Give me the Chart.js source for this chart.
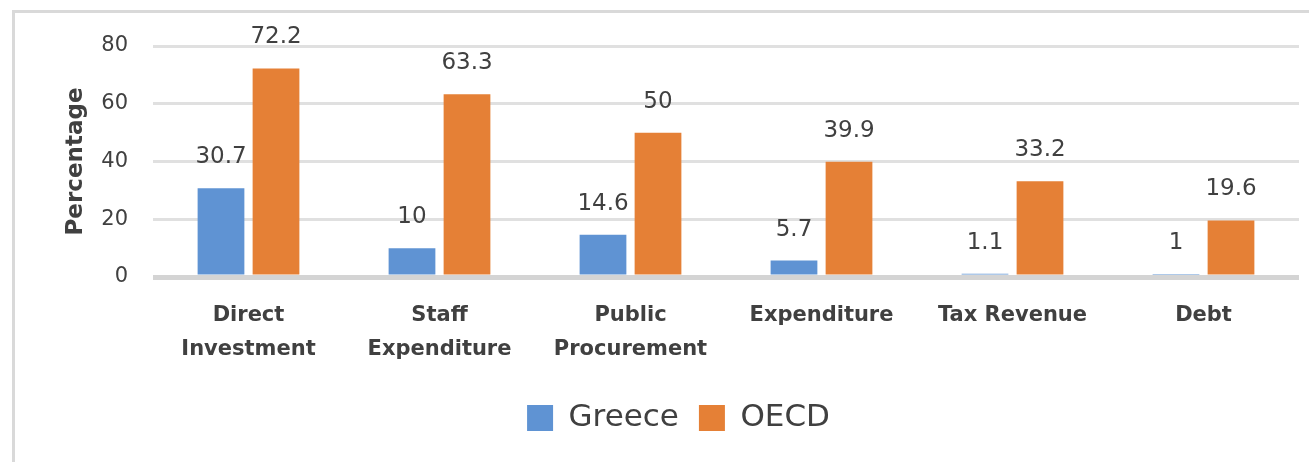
<!DOCTYPE html>
<html>
<head>
<meta charset="utf-8">
<script src="https://cdn.jsdelivr.net/npm/chart.js@4"></script>
<style>
  html, body { margin: 0; padding: 0; background: #ffffff; }
  #wrap { width: 1309px; height: 462px; position: relative; }
</style>
</head>
<body>
<div id="wrap"><canvas id="chart"></canvas></div>
<script>
// Chart data
const categories = [
  ["Direct", "Investment"],
  ["Staff", "Expenditure"],
  ["Public", "Procurement"],
  "Expenditure",
  "Tax Revenue",
  "Debt",
];
const greeceValues = [30.7, 10, 14.6, 5.7, 1.1, 1];
const oecdValues = [72.2, 63.3, 50, 39.9, 33.2, 19.6];
const yTicks = [0, 20, 40, 60, 80];

const textColor = "#404040";

// Frame around the chart (top + left edge only, as in the picture)
const framePlugin = {
  id: "frame",
  beforeDraw(chart) {
    const ctx = chart.ctx;
    ctx.save();
    ctx.strokeStyle = "#d9d9d9";
    ctx.lineWidth = 3;
    ctx.beginPath();
    ctx.moveTo(13.5, 462);
    ctx.lineTo(13.5, 11.5);
    ctx.lineTo(1309, 11.5);
    ctx.stroke();
    ctx.restore();
  },
};

// Value labels above each bar
const valueLabels = {
  id: "valueLabels",
  afterDatasetsDraw(chart) {
    const ctx = chart.ctx;
    ctx.save();
    ctx.font = "23px 'DejaVu Sans'";
    ctx.fillStyle = textColor;
    ctx.textAlign = "center";
    ctx.textBaseline = "middle";
    chart.data.datasets.forEach((ds, i) => {
      chart.getDatasetMeta(i).data.forEach((bar, j) => {
        ctx.fillText(String(ds.data[j]), bar.x, bar.y - 31);
      });
    });
    ctx.restore();
  },
};

new Chart(document.getElementById("chart"), {
  type: "bar",
  data: {
    labels: categories,
    datasets: [
      {
        label: "Greece",
        data: greeceValues,
        backgroundColor: "#5f93d3",
        categoryPercentage: 0.576,
        barPercentage: 0.85,
      },
      {
        label: "OECD",
        data: oecdValues,
        backgroundColor: "#e58036",
        categoryPercentage: 0.576,
        barPercentage: 0.85,
      },
    ],
  },
  options: {
    responsive: true,
    maintainAspectRatio: false,
    animation: false,
    layout: {
      padding: { left: 58, right: 10, top: 46, bottom: 18.5 },
    },
    plugins: {
      tooltip: { enabled: false },
      legend: {
        position: "bottom",
        labels: {
          color: textColor,
          font: { family: "'DejaVu Sans'", size: 31 },
          boxWidth: 26,
          boxHeight: 26,
          padding: 20,
        },
      },
    },
    scales: {
      x: {
        afterFit(axis) {
          axis.height = 105.5;
        },
        grid: { display: false, drawTicks: false },
        border: { display: false },
        ticks: {
          color: textColor,
          font: { family: "'DejaVu Sans'", size: 21, weight: "bold", lineHeight: 1.6 },
          padding: 22,
          maxRotation: 0,
          autoSkip: false,
        },
      },
      y: {
        min: 0,
        max: 80,
        afterBuildTicks(axis) {
          axis.ticks = yTicks.map((v) => ({ value: v }));
        },
        afterFit(axis) {
          axis.width = 95;
        },
        border: { display: false },
        grid: {
          drawTicks: false,
          color: (c) => (c.tick && c.tick.value === 0 ? "#d4d4d4" : "#e0e0e0"),
          lineWidth: (c) => (c.tick && c.tick.value === 0 ? 5 : 3),
        },
        ticks: {
          color: textColor,
          font: { family: "'DejaVu Sans'", size: 21 },
          padding: 25,
        },
        title: {
          display: true,
          text: "Percentage",
          color: textColor,
          font: { family: "'DejaVu Sans'", size: 23, weight: "bold" },
          padding: { top: 4, bottom: 0 },
        },
      },
    },
  },
  plugins: [framePlugin, valueLabels],
});
</script>
</body>
</html>
